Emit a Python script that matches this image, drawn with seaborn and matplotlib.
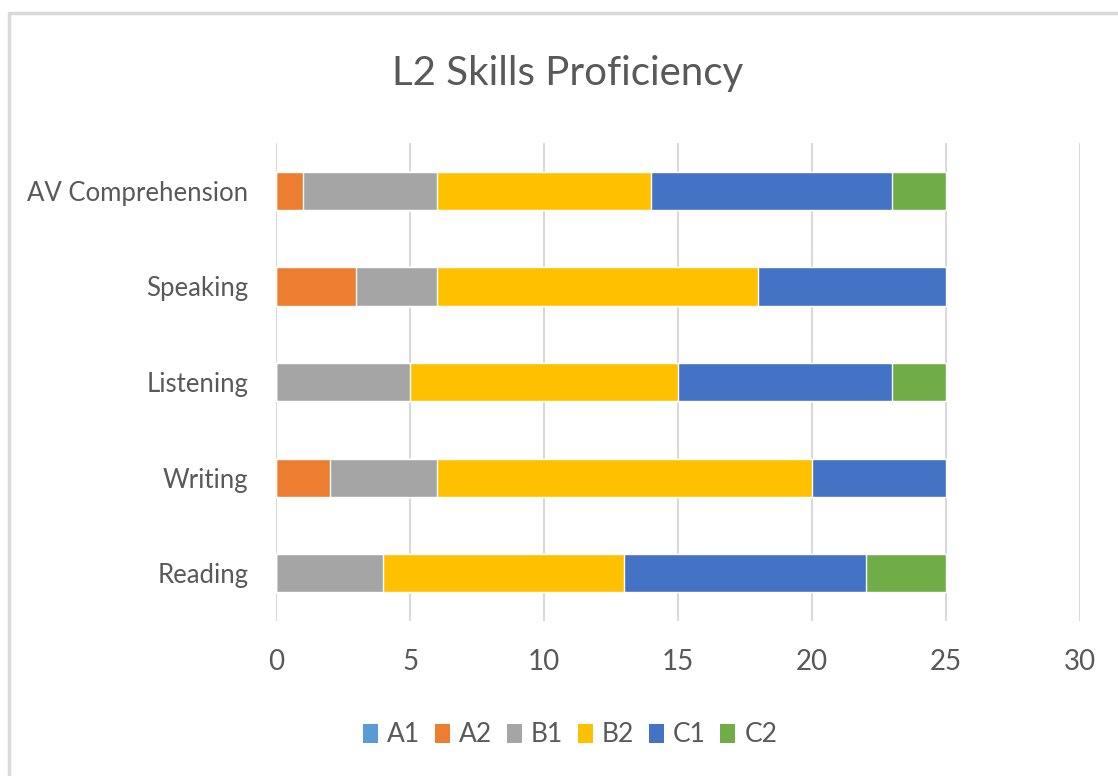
import pandas as pd
import matplotlib
matplotlib.use("Agg")
import matplotlib.pyplot as plt
from matplotlib.patches import Rectangle, Patch
import seaborn as sns

# data
skills = ["AV Comprehension", "Speaking", "Listening", "Writing", "Reading"]
levels = ["A1", "A2", "B1", "B2", "C1", "C2"]
a1 = [0, 0, 0, 0, 0]
a2 = [1, 3, 0, 2, 0]
b1 = [5, 3, 5, 4, 4]
b2 = [8, 12, 10, 14, 9]
c1 = [9, 7, 8, 5, 9]
c2 = [2, 0, 2, 0, 3]
colors = ["#5B9BD5", "#ED7D31", "#A5A5A5", "#FFC000", "#4472C4", "#70AD47"]
xticks = [0, 5, 10, 15, 20, 25, 30]

df = pd.DataFrame({"Skill": skills, "A1": a1, "A2": a2, "B1": b1,
                   "B2": b2, "C1": c1, "C2": c2})
cum = df[levels].cumsum(axis=1)
cum["Skill"] = df["Skill"]

sns.set_theme(style="white")
plt.rcParams["font.family"] = ["Lato", "DejaVu Sans"]
text_col = "#595959"

fig = plt.figure(figsize=(11.18, 7.76), dpi=100)
ax = fig.add_axes([0.2469, 0.1997, 0.966 - 0.2469, 0.8157 - 0.1997])

# frame around the chart (cut off on the right and bottom)
fig.patches.append(Rectangle((9 / 1118, -0.1), 1.2, 1 - 13 / 776 + 0.1,
                             transform=fig.transFigure, fill=False,
                             edgecolor="#D9D9D9", linewidth=2.5, zorder=0))

# stacked bars: draw cumulative totals from the top layer down
for lvl, col in zip(reversed(levels), reversed(colors)):
    sns.barplot(data=cum, x=lvl, y="Skill", order=skills, color=col,
                orient="h", width=0.4, saturation=1, ax=ax, zorder=3)

ax.set_xlim(0, 30)
ax.set_xticks(xticks)
ax.set_xlabel("")
ax.set_ylabel("")
ax.grid(axis="x", color="#D9D9D9", linewidth=1.5, zorder=0)
ax.grid(axis="y", visible=False)
for s in ax.spines.values():
    s.set_visible(False)
ax.tick_params(axis="both", length=0, colors=text_col)
ax.tick_params(axis="x", pad=20, labelsize=20)
ax.tick_params(axis="y", pad=20, labelsize=18.5)

fig.text(0.508, 0.905, "L2 Skills Proficiency", ha="center", va="center",
         fontsize=29, color=text_col)

handles = [Patch(facecolor=c, edgecolor="none", label=l) for l, c in zip(levels, colors)]
fig.legend(handles=handles, loc="center", bbox_to_anchor=(0.51, 0.053), ncol=6,
           frameon=False, fontsize=19, handlelength=0.57, handleheight=0.75,
           handletextpad=0.35, columnspacing=0.55, labelcolor=text_col)

fig.savefig("out.png", dpi=100)
